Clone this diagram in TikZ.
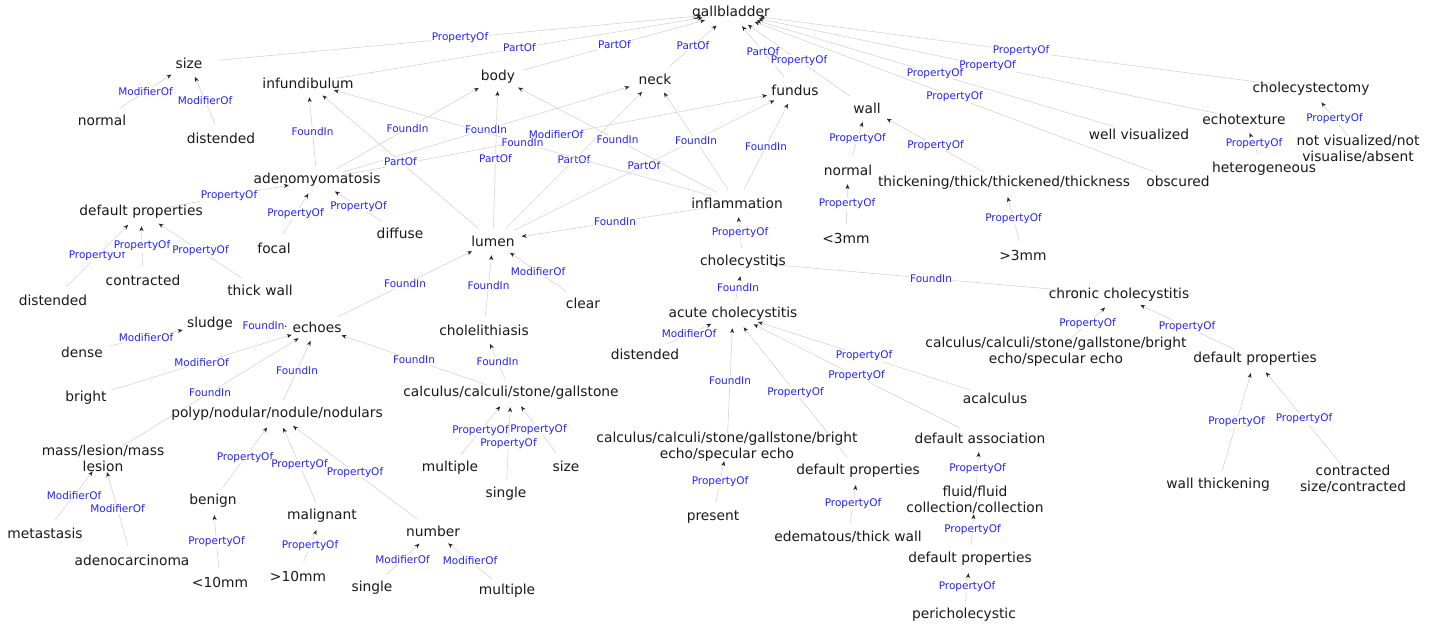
\documentclass[tikz,border=0pt]{standalone}
\usepackage{fontspec}
\setmainfont{DejaVu Sans}
\usepackage{tikz}
\usetikzlibrary{arrows.meta,shapes.geometric,backgrounds}

\definecolor{relblue}{RGB}{35,35,255}
\definecolor{nodegray}{RGB}{25,25,25}
\tikzset{
  vtx/.style={ellipse,minimum width=60pt,minimum height=28pt,inner sep=0pt},
  every label/.style={font=\fontsize{13.8}{16}\selectfont,text=nodegray,align=center,inner sep=0pt},
  rel/.style={draw=black!17,line width=0.6pt,-{Stealth[length=5pt,width=4pt,color=black!85]}},
  lbl/.style={font=\fontsize{10.5}{12}\selectfont,text=relblue,fill=white,inner sep=0.8pt,midway}
}

\begin{document}
\begin{tikzpicture}[x=1pt,y=-1pt]
\useasboundingbox (0,0) rectangle (1442,628);

\path (731,13)  node[vtx,label=center:gallbladder] (gb) {};
\path (189,63)  node[vtx,label=center:size] (size) {};
\path (308,83)  node[vtx,label=center:infundibulum] (infund) {};
\path (498,77)  node[vtx,label=center:body] (body) {};
\path (655,79)  node[vtx,label=center:neck] (neck) {};
\path (795,90)  node[vtx,label=center:fundus] (fundus) {};
\path (867,108) node[vtx,label=center:wall] (wall) {};
\path (1311,89) node[vtx,label=center:cholecystectomy] (chx) {};
\path (1244,119) node[vtx,label=center:echotexture] (etex) {};
\path (1139,134) node[vtx,label=center:well visualized] (wellvis) {};
\path (1358,149) node[vtx,label={center:{not visualized/not\\visualise/absent}}] (notvis) {};
\path (1264,169) node[vtx,label=center:heterogeneous] (hetero) {};
\path (1178,181) node[vtx,label=center:obscured] (obsc) {};
\path (1004,183) node[vtx,label=center:thickening/thick/thickened/thickness] (thick) {};
\path (848,170) node[vtx,label=center:normal] (wnorm) {};
\path (102,120) node[vtx,label=center:normal] (snorm) {};
\path (221,138) node[vtx,label=center:distended] (sdist) {};
\path (317,180) node[vtx,label=center:adenomyomatosis] (adeno) {};
\path (141,212) node[vtx,label=center:default properties] (dpA) {};
\path (274,248) node[vtx,label=center:focal] (focal) {};
\path (400,233) node[vtx,label=center:diffuse] (diffuse) {};
\path (493,241) node[vtx,label=center:lumen] (lumen) {};
\path (737,203) node[vtx,label=center:inflammation] (infl) {};
\path (846,238) node[vtx,label=center:<3mm] (lt3) {};
\path (1023,255) node[vtx,label=center:>3mm] (gt3) {};
\path (53,300)  node[vtx,label=center:distended] (dpAdist) {};
\path (143,280) node[vtx,label=center:contracted] (dpAcon) {};
\path (260,290) node[vtx,label=center:thick wall] (dpAwall) {};
\path (583,303) node[vtx,label=center:clear] (clear) {};
\path (743,262) node[vtx,label=center:cholecystitis] (chol) {};
\path (1119,295) node[vtx,label=center:chronic cholecystitis] (chronic) {};
\path (210,324) node[vtx,label=center:sludge] (sludge) {};
\path (317,327) node[vtx,label=center:echoes] (echoes) {};
\path (82,352)  node[vtx,label=center:dense] (dense) {};
\path (484,330) node[vtx,label=center:cholelithiasis] (lith) {};
\path (733,314) node[vtx,label=center:acute cholecystitis] (acute) {};
\path (645,354) node[vtx,label=center:distended] (adist) {};
\path (1056,352) node[vtx,label={center:{calculus/calculi/stone/gallstone/bright\\echo/specular echo}}] (chrcalc) {};
\path (1255,359) node[vtx,label=center:default properties] (dpC) {};
\path (86,398)  node[vtx,label=center:bright] (bright) {};
\path (511,393) node[vtx,label=center:calculus/calculi/stone/gallstone] (calc) {};
\path (995,398) node[vtx,label=center:acalculus] (acalc) {};
\path (277,414) node[vtx,label=center:polyp/nodular/nodule/nodulars] (polyp) {};
\path (103,458) node[vtx,label={center:{mass/lesion/mass\\lesion}}] (mass) {};
\path (727,447) node[vtx,label={center:{calculus/calculi/stone/gallstone/bright\\echo/specular echo}}] (acucalc) {};
\path (980,438) node[vtx,label=center:default association] (dassoc) {};
\path (858,471) node[vtx,label=center:default properties] (dpB) {};
\path (450,468) node[vtx,label=center:multiple] (cmult) {};
\path (566,466) node[vtx,label=center:size] (csize) {};
\path (506,494) node[vtx,label=center:single] (csing) {};
\path (1218,485) node[vtx,label=center:wall thickening] (wthick) {};
\path (1353,479) node[vtx,label={center:{contracted\\size/contracted}}] (ccontr) {};
\path (975,500) node[vtx,label={center:{fluid/fluid\\collection/collection}}] (fluid) {};
\path (213,501) node[vtx,label=center:benign] (benign) {};
\path (322,516) node[vtx,label=center:malignant] (malig) {};
\path (433,531) node[vtx,label=center:number] (number) {};
\path (45,533)  node[vtx,label=center:metastasis] (metas) {};
\path (132,560) node[vtx,label=center:adenocarcinoma] (adenoca) {};
\path (713,517) node[vtx,label=center:present] (present) {};
\path (848,537) node[vtx,label=center:edematous/thick wall] (edema) {};
\path (970,559) node[vtx,label=center:default properties] (dpF) {};
\path (220,582) node[vtx,label=center:<10mm] (lt10) {};
\path (298,576) node[vtx,label=center:>10mm] (gt10) {};
\path (372,588) node[vtx,label=center:single] (nsing) {};
\path (507,591) node[vtx,label=center:multiple] (nmult) {};
\path (964,615) node[vtx,label=center:pericholecystic] (peri) {};

\begin{scope}[on background layer]
\draw[rel] (size) to node[lbl] {PropertyOf} (gb);
\draw[rel] (infund) to node[lbl] {PartOf} (gb);
\draw[rel] (body) to node[lbl] {PartOf} (gb);
\draw[rel] (neck) to node[lbl] {PartOf} (gb);
\draw[rel] (fundus) to node[lbl] {PartOf} (gb);
\draw[rel] (wall) to node[lbl] {PropertyOf} (gb);
\draw[rel] (chx) to node[lbl] {PropertyOf} (gb);
\draw[rel] (etex) to node[lbl] {PropertyOf} (gb);
\draw[rel] (wellvis) to node[lbl] {PropertyOf} (gb);
\draw[rel] (obsc) to node[lbl] {PropertyOf} (gb);
\draw[rel] (snorm) to node[lbl] {ModifierOf} (size);
\draw[rel] (sdist) to node[lbl] {ModifierOf} (size);
\draw[rel] (adeno) to node[lbl] {FoundIn} (infund);
\draw[rel] (adeno) to node[lbl] {FoundIn} (body);
\draw[rel] (adeno) to node[lbl] {FoundIn} (neck);
\draw[rel] (adeno) to node[lbl] {ModifierOf} (fundus);
\draw[rel] (lumen) to node[lbl] {PartOf} (infund);
\draw[rel] (lumen) to node[lbl] {PartOf} (body);
\draw[rel] (lumen) to node[lbl] {PartOf} (neck);
\draw[rel] (lumen) to node[lbl] {PartOf} (fundus);
\draw[rel] (infl) to node[lbl] {FoundIn} (infund);
\draw[rel] (infl) to node[lbl] {FoundIn} (body);
\draw[rel] (infl) to node[lbl] {FoundIn} (neck);
\draw[rel] (infl) to node[lbl] {FoundIn} (fundus);
\draw[rel] (wnorm) to node[lbl] {PropertyOf} (wall);
\draw[rel] (thick) to node[lbl] {PropertyOf} (wall);
\draw[rel] (lt3) to node[lbl] {PropertyOf} (wnorm);
\draw[rel] (gt3) to node[lbl] {PropertyOf} (thick);
\draw[rel] (hetero) to node[lbl] {PropertyOf} (etex);
\draw[rel] (notvis) to node[lbl] {PropertyOf} (chx);
\draw[rel] (dpA) to node[lbl] {PropertyOf} (adeno);
\draw[rel] (focal) to node[lbl] {PropertyOf} (adeno);
\draw[rel] (diffuse) to node[lbl] {PropertyOf} (adeno);
\draw[rel] (dpAdist) to node[lbl] {PropertyOf} (dpA);
\draw[rel] (dpAcon) to node[lbl] {PropertyOf} (dpA);
\draw[rel] (dpAwall) to node[lbl] {PropertyOf} (dpA);
\draw[rel] (infl) to node[lbl] {FoundIn} (lumen);
\draw[rel] (chol) to node[lbl] {PropertyOf} (infl);
\draw[rel] (clear) to node[lbl] {ModifierOf} (lumen);
\draw[rel] (echoes) to node[lbl] {FoundIn} (lumen);
\draw[rel] (lith) to node[lbl] {FoundIn} (lumen);
\draw[rel] (acute) to node[lbl] {FoundIn} (chol);
\draw[rel] (chronic) to node[lbl] {FoundIn} (chol);
\draw[rel] (sludge) to node[lbl] {FoundIn} (echoes);
\draw[rel] (dense) to node[lbl] {ModifierOf} (sludge);
\draw[rel] (bright) to node[lbl] {ModifierOf} (echoes);
\draw[rel] (polyp) to node[lbl] {FoundIn} (echoes);
\draw[rel] (mass) to node[lbl] {FoundIn} (echoes);
\draw[rel] (calc) to node[lbl] {FoundIn} (echoes);
\draw[rel] (calc) to node[lbl] {FoundIn} (lith);
\draw[rel] (adist) to node[lbl] {ModifierOf} (acute);
\draw[rel] (chrcalc) to node[lbl] {PropertyOf} (chronic);
\draw[rel] (dpC) to node[lbl] {PropertyOf} (chronic);
\draw[rel] (acucalc) to node[lbl] {FoundIn} (acute);
\draw[rel] (dpB) to node[lbl] {PropertyOf} (acute);
\draw[rel] (dassoc) to node[lbl] {PropertyOf} (acute);
\draw[rel] (acalc) to node[lbl] {PropertyOf} (acute);
\draw[rel] (cmult) to node[lbl] {PropertyOf} (calc);
\draw[rel] (csing) to node[lbl] {PropertyOf} (calc);
\draw[rel] (csize) to node[lbl] {PropertyOf} (calc);
\draw[rel] (wthick) to node[lbl] {PropertyOf} (dpC);
\draw[rel] (ccontr) to node[lbl] {PropertyOf} (dpC);
\draw[rel] (metas) to node[lbl] {ModifierOf} (mass);
\draw[rel] (adenoca) to node[lbl] {ModifierOf} (mass);
\draw[rel] (benign) to node[lbl] {PropertyOf} (polyp);
\draw[rel] (malig) to node[lbl] {PropertyOf} (polyp);
\draw[rel] (number) to node[lbl] {PropertyOf} (polyp);
\draw[rel] (lt10) to node[lbl] {PropertyOf} (benign);
\draw[rel] (gt10) to node[lbl] {PropertyOf} (malig);
\draw[rel] (nsing) to node[lbl] {ModifierOf} (number);
\draw[rel] (nmult) to node[lbl] {ModifierOf} (number);
\draw[rel] (present) to node[lbl] {PropertyOf} (acucalc);
\draw[rel] (edema) to node[lbl] {PropertyOf} (dpB);
\draw[rel] (fluid) to node[lbl] {PropertyOf} (dassoc);
\draw[rel] (dpF) to node[lbl] {PropertyOf} (fluid);
\draw[rel] (peri) to node[lbl] {PropertyOf} (dpF);
\end{scope}
\end{tikzpicture}
\end{document}
